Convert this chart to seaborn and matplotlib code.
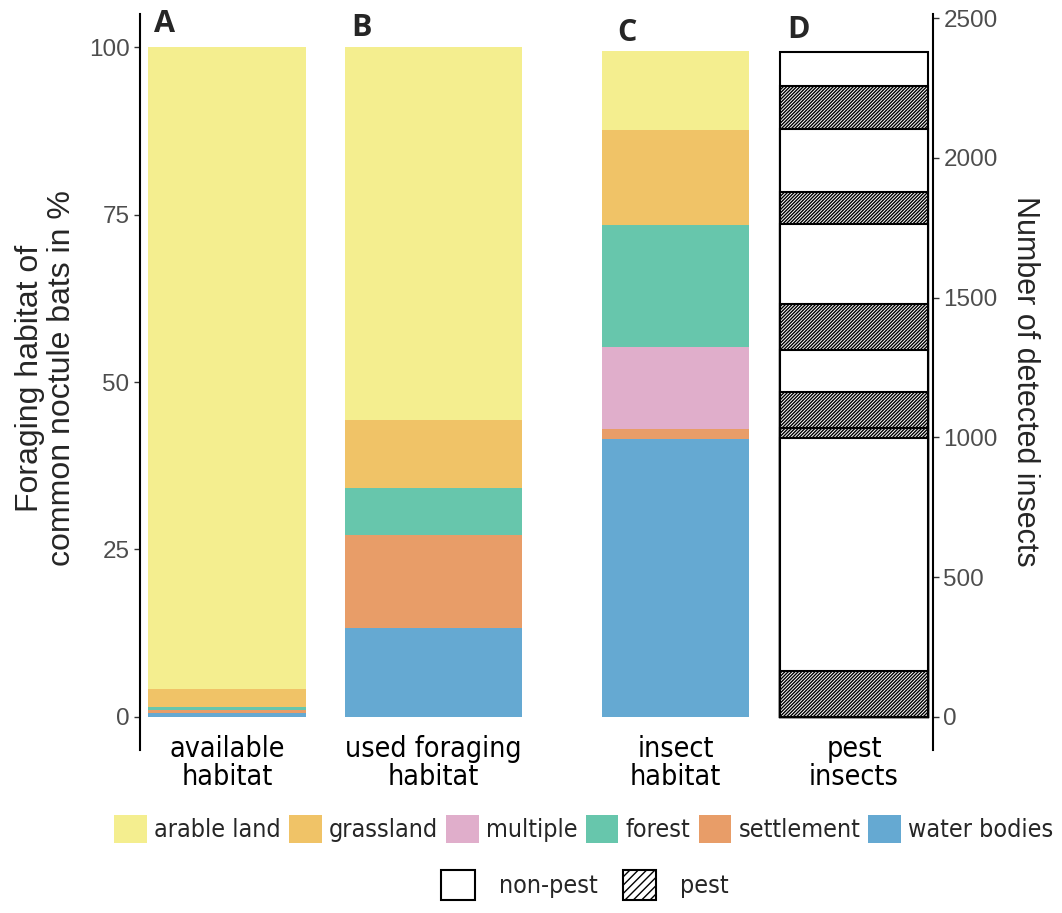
import numpy as np
import pandas as pd
import matplotlib
matplotlib.use("Agg")
import matplotlib.pyplot as plt
from matplotlib.patches import Patch
from matplotlib import font_manager as fm
import seaborn as sns

# habitat categories, stacked bottom -> top
habitats = ["water bodies", "settlement", "multiple", "forest", "grassland", "arable land"]
habitat_colors = ["#65A9D2", "#E89D68", "#E0AECB", "#67C6AC", "#F0C367", "#F4EE8F"]

# percent of habitat per bar (same order as habitats)
available_habitat = [0.6, 0.4, 0.0, 0.4, 2.7, 95.9]
used_foraging = [13.3, 13.9, 0.0, 7.0, 10.1, 55.7]
insect_habitat = [41.5, 1.5, 12.3, 18.2, 14.2, 11.7]

# panel D: detected insects, stacked bottom -> top
pest_counts = [165, 831, 38, 129, 149, 165, 285, 117, 223, 156, 120]
pest_status = ["pest", "non-pest", "pest", "pest", "non-pest", "pest",
               "non-pest", "pest", "non-pest", "pest", "non-pest"]

bar_labels = ["available\nhabitat", "used foraging\nhabitat", "insect\nhabitat", "pest\ninsects"]
panel_letters = ["A", "B", "C", "D"]

# layout (x in pixel-like units of the axes)
bar_pos = [227, 433.5, 675.5, 854]
bar_width = [158, 177, 147, 148]

sns.set_style("white")
plt.rcParams["font.family"] = ["Liberation Sans", "DejaVu Sans"]
plt.rcParams["hatch.linewidth"] = 1.0

# narrow font for category labels / legend if one is around
names = {f.name for f in fm.fontManager.ttflist}
stretches = {(f.name, f.stretch) for f in fm.fontManager.ttflist}
if "Liberation Sans Narrow" in names:
    narrow = dict(family=["Liberation Sans Narrow", "DejaVu Sans"])
elif ("DejaVu Sans", "condensed") in stretches or ("DejaVu Sans", 75) in stretches:
    narrow = dict(family=["DejaVu Sans"], stretch="condensed")
else:
    narrow = dict(family=["Liberation Sans", "DejaVu Sans"])

fig = plt.figure(figsize=(10.62, 9.13), dpi=100)
W, H = 1062, 913
ax = fig.add_axes([140 / W, (H - 750) / H, (933 - 140) / W, (750 - 14) / H])
ax2 = ax.twinx()


def stacked(axis, pos, width, values, colors, **kw):
    tops = np.cumsum(values)
    # draw tallest first so the shorter bars sit on top
    for i in range(len(values) - 1, -1, -1):
        if values[i] <= 0:
            continue
        df = pd.DataFrame({"x": [pos], "y": [tops[i]]})
        extra = dict(kw)
        if callable(colors):
            extra.update(colors(i))
        else:
            extra["color"] = colors[i]
        sns.barplot(data=df, x="x", y="y", native_scale=True, width=width,
                    errorbar=None, saturation=1, ax=axis, **extra)


for k, vals in enumerate([available_habitat, used_foraging, insect_habitat]):
    stacked(ax, bar_pos[k], bar_width[k], vals, habitat_colors, linewidth=0)


def pest_style(i):
    if pest_status[i] == "pest":
        return dict(color="white", hatch="/" * 10)
    return dict(color="white")


stacked(ax2, bar_pos[3], bar_width[3], pest_counts, pest_style,
        edgecolor="black", linewidth=1.5)

ax.set_xlim(140, 933)
ax.set_ylim(-4.98, 105.0)
ax2.set_ylim(-119.2, 2515.4)

ax.set_yticks([0, 25, 50, 75, 100])
ax2.set_yticks([0, 500, 1000, 1500, 2000, 2500])
ax.set_xticks(bar_pos)
ax.set_xticklabels(bar_labels, fontsize=20.5, color="black", linespacing=1.0, **narrow)
ax.tick_params(axis="x", length=0, pad=-11)
ax.tick_params(axis="y", length=4, width=1, color="#333333", labelsize=17.5,
               labelcolor="#4D4D4D", left=True)
ax2.tick_params(axis="y", length=4, width=1, color="#333333", labelsize=17.5,
                labelcolor="#4D4D4D", right=True)
ax.set_xlabel("")
ax.set_ylabel("")
ax2.set_xlabel("")
ax2.set_ylabel("")

for a in (ax, ax2):
    for s in ("top", "bottom"):
        a.spines[s].set_visible(False)
ax.spines["right"].set_visible(False)
ax2.spines["left"].set_visible(False)
ax.spines["left"].set_color("black")
ax.spines["left"].set_linewidth(1.5)
ax2.spines["right"].set_color("black")
ax2.spines["right"].set_linewidth(1.5)

fig.text(46 / W, 1 - 378 / H, "Foraging habitat of\ncommon noctule bats in %",
         rotation=90, ha="center", va="center", fontsize=23, multialignment="center",
         linespacing=1.1)
fig.text(1025 / W, 1 - 381 / H, "Number of detected insects",
         rotation=270, ha="center", va="center", fontsize=22)

letter_xy = [(165, 24), (362, 28), (627, 33), (798, 30)]
for letter, (lx, ly) in zip(panel_letters, letter_xy):
    fig.text(lx / W, 1 - ly / H, letter, ha="center", va="center", fontsize=22,
             fontweight="bold", family=["Open Sans", "DejaVu Sans"])

legend_order = ["arable land", "grassland", "multiple", "forest", "settlement", "water bodies"]
handles = [Patch(facecolor=habitat_colors[habitats.index(h)], edgecolor="none", label=h)
           for h in legend_order]
prop = dict(size=18, **narrow)
fig.legend(handles=handles, loc="center", bbox_to_anchor=(584 / W, 1 - 829 / H),
           ncol=6, frameon=False, handlelength=1.3, handleheight=1.4,
           handletextpad=0.3, columnspacing=0.32, prop=prop)

handles2 = [Patch(facecolor="white", edgecolor="black", linewidth=1.5, label="non-pest"),
            Patch(facecolor="white", edgecolor="black", linewidth=1.5, hatch="////", label="pest")]
fig.legend(handles=handles2, loc="center", bbox_to_anchor=(585 / W, 1 - 885 / H),
           ncol=2, frameon=False, handlelength=1.35, handleheight=1.45,
           handletextpad=0.95, columnspacing=1.0, prop=prop)

fig.savefig("out.png", dpi=100)
